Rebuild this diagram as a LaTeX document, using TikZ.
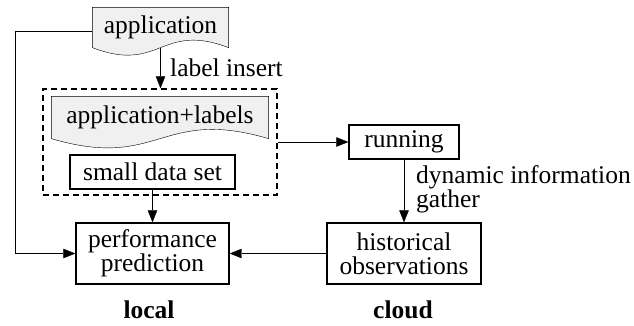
\documentclass[tikz,border=0pt]{standalone}
\usepackage{fontspec}
\setmainfont{Liberation Serif}
\usetikzlibrary{arrows.meta,calc,backgrounds}
\definecolor{docfill}{HTML}{F0F0F0}
\begin{document}
\begin{tikzpicture}[x=1pt,y=-1pt,
  font=\fontsize{25.5}{24}\selectfont,
  line width=1.3pt,
  >={Triangle[length=12pt,width=9.5pt]},
  box/.style={draw, rectangle, inner sep=0pt, align=center},
  docshape/.style={rectangle, inner sep=0pt, align=center},
  lbl/.style={inner sep=0pt, anchor=west, align=left},
  groupbox/.style={draw, dash pattern=on 6pt off 4pt, rectangle, inner sep=0pt},
  side/.style={inner sep=0pt, font=\fontsize{25.5}{24}\selectfont\bfseries}]
\useasboundingbox (0,0) rectangle (634,325);

% document-shaped nodes (wavy bottom drawn on the background layer)
\node[docshape, minimum width=135pt, minimum height=39pt] (app) at (160.5,27.5) {application};
\node[docshape, minimum width=216pt, minimum height=41pt] (appl) at (160,117.5) {application+labels};

% plain boxes
\node[box, minimum width=165pt, minimum height=34pt] (small) at (152.5,172) {small data set};
\node[box, minimum width=110pt, minimum height=34pt] (run) at (404,142) {running};
\node[box, minimum width=154pt, minimum height=61pt] (hist) at (404,253.5) {historical\\observations};
\node[box, minimum width=153pt, minimum height=61pt] (perf) at (152.5,253.5) {performance\\prediction};

% dashed group around the local inputs
\node[groupbox, minimum width=234pt, minimum height=106pt] (group) at (160,142) {};

\begin{pgfonlayer}{background}
  \draw[fill=docfill] (app.south west) -- (app.north west) -- (app.north east) -- (app.south east)
    .. controls ($(app.south)+(0,26pt)$) and ($(app.south)+(0,-26pt)$) .. (app.south west);
  \draw[fill=docfill] (appl.south west) -- (appl.north west) -- (appl.north east) -- (appl.south east)
    .. controls ($(appl.south)+(0,32pt)$) and ($(appl.south)+(0,-32pt)$) .. (appl.south west);
\end{pgfonlayer}

% edge labels
\node[lbl] (li) at (170,68) {label insert};
\node[lbl] (dig) at (416,189) {dynamic information\\gather};

% side captions
\node[side] (loc) at (149,310) {local};
\node[side] (cld) at (403,310) {cloud};

% connectors
\coordinate (lc) at (15,31);
\draw[->] ([yshift=-3.5pt]app.west) -- (lc) |- (perf.west);
\draw[->] (app.south) -- (app.south |- group.north);
\draw[->] (group.east) -- (run.west);
\draw[->] (run.south) -- (hist.north);
\draw[->] (small.south) -- (perf.north);
\draw[->] (hist.west) -- (perf.east);
\end{tikzpicture}
\end{document}
